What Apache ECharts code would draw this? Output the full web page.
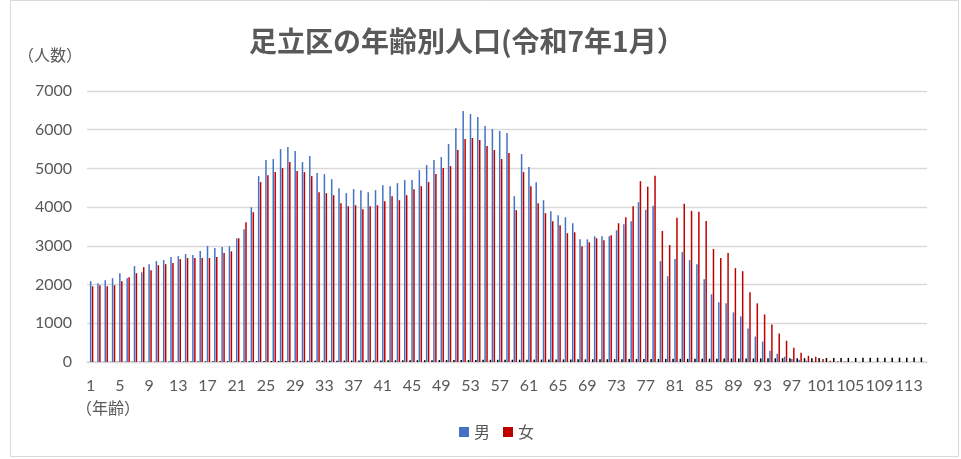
<!DOCTYPE html>
<html>
<head>
<meta charset="utf-8">
<script src="https://cdn.jsdelivr.net/npm/echarts@6/dist/echarts.min.js"></script>
<style>
  html, body { margin: 0; padding: 0; background: #fff; }
  #chart { width: 961px; height: 459px; }
</style>
</head>
<body>
<div id="chart"></div>
<script>
// 年齢 (x軸のカテゴリ。Excelでは年齢列も系列として描かれている)
const ages = [
  1, 2, 3, 4, 5, 6, 7, 8, 9, 10, 11, 12, 13, 14, 15, 16, 17, 18, 19, 20,
  21, 22, 23, 24, 25, 26, 27, 28, 29, 30, 31, 32, 33, 34, 35, 36, 37, 38, 39, 40,
  41, 42, 43, 44, 45, 46, 47, 48, 49, 50, 51, 52, 53, 54, 55, 56, 57, 58, 59, 60,
  61, 62, 63, 64, 65, 66, 67, 68, 69, 70, 71, 72, 73, 74, 75, 76, 77, 78, 79, 80,
  81, 82, 83, 84, 85, 86, 87, 88, 89, 90, 91, 92, 93, 94, 95, 96, 97, 98, 99, 100,
  101, 102, 103, 104, 105, 106, 107, 108, 109, 110, 111, 112, 113, 114, 115
]

// 男
const male = [
  2090, 2035, 2113, 2165, 2294, 2165, 2476, 2320, 2528, 2606,
  2632, 2710, 2736, 2788, 2762, 2866, 2996, 2944, 2970, 2990,
  3195, 3428, 3998, 4801, 5216, 5242, 5501, 5553, 5449, 5164,
  5320, 4879, 4853, 4724, 4491, 4361, 4465, 4439, 4387, 4439,
  4568, 4542, 4620, 4698, 4698, 4957, 5086, 5216, 5294, 5630,
  6045, 6485, 6408, 6330, 6097, 6019, 5967, 5915, 4283, 5371,
  5035, 4646, 4180, 3895, 3791, 3739, 3584, 3169, 3169, 3247,
  3247, 3247, 3402, 3558, 3636, 4128, 3931, 4035, 2606, 2216,
  2658, 2840, 2632, 2528, 2139, 1749, 1541, 1515, 1281, 1177,
  866, 658, 528, 290, 212, 135, 80, 55, 35, 15,
  6, 3, 1, 1, 0, 0, 0, 0, 0, 0, 0, 0, 0, 0, 0
]

// 女
const female = [
  1957, 1983, 1957, 1983, 2087, 2190, 2294, 2450, 2372, 2502,
  2528, 2554, 2658, 2684, 2684, 2684, 2684, 2710, 2814, 2858,
  3195, 3610, 3869, 4646, 4827, 4905, 5009, 5164, 4931, 4905,
  4801, 4387, 4361, 4309, 4102, 4024, 4050, 3946, 4024, 4050,
  4154, 4283, 4180, 4309, 4465, 4542, 4646, 4853, 5009, 5060,
  5475, 5760, 5786, 5734, 5579, 5475, 5242, 5397, 3921, 4905,
  4542, 4102, 3843, 3636, 3532, 3325, 3351, 2988, 3092, 3195,
  3143, 3273, 3584, 3739, 4024, 4672, 4528, 4814, 3385, 3022,
  3723, 4087, 3905, 3879, 3645, 2918, 2684, 2814, 2424, 2346,
  1801, 1515, 1229, 968, 733, 549, 367, 238, 160, 135,
  80, 30, 18, 10, 5, 3, 2, 1, 0, 0, 0, 0, 0, 0, 0
]

const yTicks = { min: 0, max: 7000, interval: 1000 }

const chartDom = document.getElementById('chart')
const chart = echarts.init(chartDom, null, { renderer: 'canvas' })

const textColor = '#595959'
const numFont = "Lato, 'Noto Sans CJK JP', sans-serif"
const jpFont = "'Noto Sans CJK JP', sans-serif"

const option = {
  backgroundColor: '#ffffff',
  animation: false,
  grid: {
    left: 87,
    right: 34,
    top: 91,
    bottom: 97
  },
  legend: {
    data: ['男', '女'],
    left: 454,
    top: 419,
    icon: 'rect',
    itemWidth: 10,
    itemHeight: 10,
    itemGap: 13,
    textStyle: {
      color: textColor,
      fontSize: 16,
      fontFamily: jpFont
    }
  },
  xAxis: {
    type: 'category',
    data: ages,
    axisLine: { lineStyle: { color: '#d9d9d9', width: 1.5 } },
    axisTick: { show: false },
    axisLabel: {
      interval: 3,
      color: textColor,
      fontSize: 16,
      fontFamily: numFont,
      margin: 16
    }
  },
  yAxis: {
    type: 'value',
    min: yTicks.min,
    max: yTicks.max,
    interval: yTicks.interval,
    axisLine: { show: false },
    axisTick: { show: false },
    axisLabel: {
      color: textColor,
      fontSize: 16,
      fontFamily: numFont,
      margin: 15,
      formatter: value => String(value)
    },
    splitLine: {
      lineStyle: { color: '#d9d9d9', width: 1.3 }
    }
  },
  series: [
    {
      name: '年齢',
      type: 'bar',
      data: ages,
      barWidth: 1.5,
      barGap: '30%',
      itemStyle: { color: '#000000' }
    },
    {
      name: '男',
      type: 'bar',
      data: male,
      barWidth: 1.5,
      barGap: '30%',
      itemStyle: { color: '#4472C4' }
    },
    {
      name: '女',
      type: 'bar',
      data: female,
      barWidth: 1.5,
      barGap: '30%',
      itemStyle: { color: '#C00000' }
    }
  ],
  graphic: [
    {
      type: 'rect',
      shape: { x: 10.5, y: 0.5, width: 948, height: 456 },
      style: { fill: 'none', stroke: '#d9d9d9', lineWidth: 1 },
      silent: true
    },
    {
      type: 'text',
      left: 249,
      top: 27,
      style: {
        text: '足立区の年齢別人口(令和7年1月）',
        fill: textColor,
        font: "bold 28px 'Noto Sans CJK JP', sans-serif"
      }
    },
    {
      type: 'text',
      left: 18,
      top: 47,
      style: {
        text: '（人数）',
        fill: textColor,
        font: "16px 'Noto Sans CJK JP', sans-serif"
      }
    },
    {
      type: 'text',
      left: 76,
      top: 400,
      style: {
        text: '（年齢）',
        fill: textColor,
        font: "16px 'Noto Sans CJK JP', sans-serif"
      }
    }
  ]
}

chart.setOption(option)

window.addEventListener('resize', () => {
  chart.resize()
})
</script>
</body>
</html>
